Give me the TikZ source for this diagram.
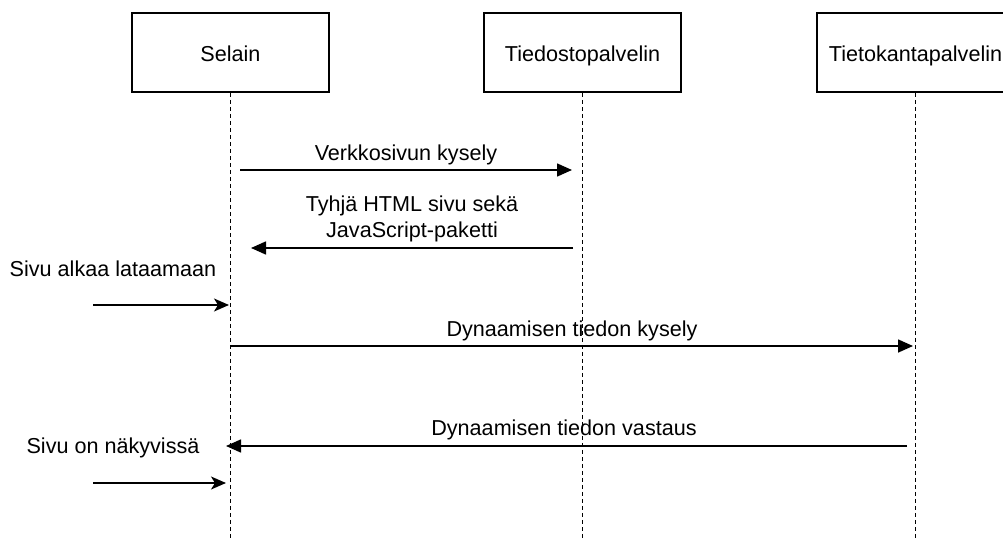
\documentclass[tikz,border=0pt]{standalone}
\usepackage{fontspec}
\setmainfont{Liberation Sans}
\usetikzlibrary{arrows.meta}
\begin{document}
\begin{tikzpicture}[x=1pt,y=-1pt,
box/.style={draw,line width=1.6pt,minimum width=197pt,minimum height=79pt,inner sep=0pt,text height=19pt,text depth=0pt,font=\fontsize{21.6}{25.5}\selectfont},
life/.style={dash pattern=on 4pt off 3pt,line width=1.3pt},
msg/.style={line width=1.6pt,-{Triangle[length=15pt,width=13pt]}},
cue/.style={line width=1.6pt,-{Stealth[length=15pt,width=13pt,inset=4pt]}},
lbl/.style={font=\fontsize{21.6}{26}\selectfont,align=center,inner sep=0pt}]
\useasboundingbox (0,0) rectangle (1003,540);
% osapuolet
\node[box] (selain) at (230.5,52.5) {Selain};
\node[box] (tiedosto) at (582.5,52.5) {Tiedostopalvelin};
\node[box] (kanta) at (915.5,52.5) {Tietokantapalvelin};
\coordinate (selainEnd) at (230.5,540);
\coordinate (tiedostoEnd) at (582.5,540);
\coordinate (kantaEnd) at (915.5,540);
\draw[life] (selain.south)--(selainEnd) (tiedosto.south)--(tiedostoEnd) (kanta.south)--(kantaEnd);
% viestit
\coordinate (k1) at (240,170); \coordinate (k2) at (572,170);
\coordinate (v1) at (573,248); \coordinate (v2) at (251,248);
\coordinate (a1) at (93,305); \coordinate (a2) at (229,305);
\coordinate (d1) at (230,346); \coordinate (d2) at (913,346);
\coordinate (r1) at (907,446); \coordinate (r2) at (226,446);
\coordinate (n1) at (93,483); \coordinate (n2) at (226,483);
\draw[msg](k1)--(k2);
\draw[msg](v1)--(v2);
\draw[cue](a1)--(a2);
\draw[msg](d1)--(d2);
\draw[msg](r1)--(r2);
\draw[cue](n1)--(n2);
\node[lbl,anchor=base] (kysely) at (406,161) {Verkkosivun kysely};
\node[lbl] (paketti) at (412,219) {Tyhjä HTML sivu sekä\\JavaScript-paketti};
\node[lbl,anchor=base] (alkaa) at (113,276) {Sivu alkaa lataamaan};
\node[lbl,anchor=base] (dkysely) at (572,336) {Dynaamisen tiedon kysely};
\node[lbl,anchor=base] (dvastaus) at (564,435) {Dynaamisen tiedon vastaus};
\node[lbl,anchor=base] (nakyvissa) at (113,453) {Sivu on näkyvissä};
\end{tikzpicture}
\end{document}
